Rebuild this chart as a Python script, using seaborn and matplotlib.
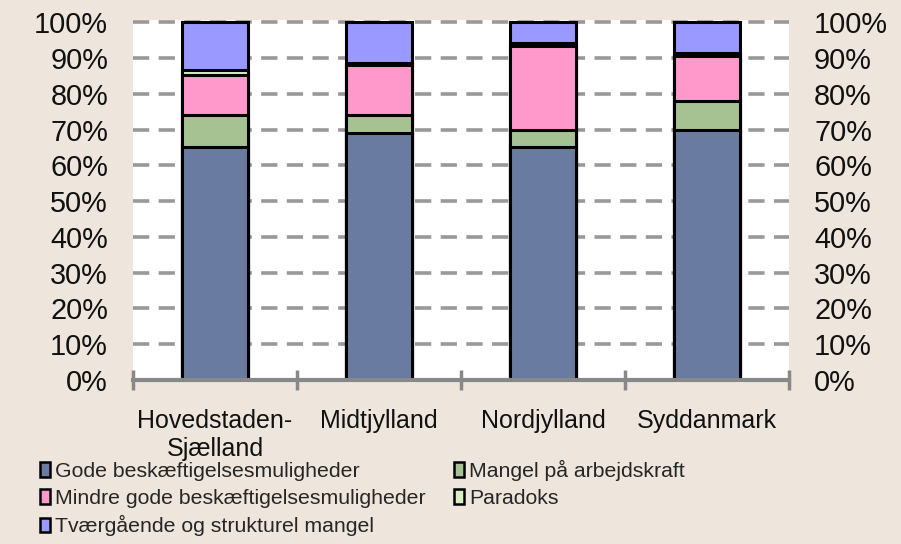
import numpy as np
import pandas as pd
import seaborn as sns
import matplotlib.pyplot as plt
from matplotlib.patches import Patch
from matplotlib.ticker import FixedLocator

regions = ["Hovedstaden-\nSjælland", "Midtjylland", "Nordjylland", "Syddanmark"]
series = ["Gode beskæftigelsesmuligheder", "Mangel på arbejdskraft",
          "Mindre gode beskæftigelsesmuligheder", "Paradoks",
          "Tværgående og strukturel mangel"]
gode = [65.0, 69.0, 65.0, 70.0]
mangel = [9.0, 5.0, 5.0, 8.0]
mindre = [11.3, 14.0, 23.3, 12.5]
paradoks = [1.3, 0.6, 0.8, 0.8]
tvaer = [13.4, 11.4, 5.9, 8.7]
colors = ["#6A7BA2", "#A6C293", "#FF99CC", "#D8EFC0", "#9999FF"]

sns.set_theme(style="white")
plt.rcParams['font.family'] = ['Liberation Sans', 'DejaVu Sans']

bg = "#EEE6DD"
fig = plt.figure(figsize=(9.01, 5.44), dpi=100, facecolor=bg)
ax = fig.add_axes([133 / 901, 164 / 544, 656 / 901, 524 / 544 - 164 / 544])
ax.set_facecolor("white")

# stacked bars: draw cumulative totals from the top layer down
layers = [gode, mangel, mindre, paradoks, tvaer]
cum = np.cumsum(np.array(layers), axis=0)
for i in range(len(layers) - 1, -1, -1):
    df = pd.DataFrame({"region": regions, "value": cum[i]})
    sns.barplot(data=df, x="region", y="value", color=colors[i], width=0.4,
                edgecolor="black", linewidth=2.2, saturation=1, ax=ax, zorder=3)

ax.set_ylim(0, 100.6)
ax.set_xlim(-0.5, 3.5)
yt = np.arange(0, 101, 10)
ax.set_yticks(yt)
ax.set_yticklabels([f"{v}%" for v in yt], fontsize=20.8, color="#111111")
ax.yaxis.grid(True, color="#999999", linewidth=2.6, linestyle=(0, (4.5, 2.6)), zorder=0)
ax.set_axisbelow(True)
ax.tick_params(axis="y", length=0, pad=18)
for s in ["top", "left", "right"]:
    ax.spines[s].set_visible(False)
ax.spines["bottom"].set_color("#888888")
ax.spines["bottom"].set_linewidth(3)
ax.spines["bottom"].set_zorder(4)

ax.set_xlabel("")
ax.set_ylabel("")
ax.set_xticks(range(4))
ax.set_xticklabels(regions, fontsize=18, color="#111111", linespacing=1.2)
ax.tick_params(axis="x", which="major", length=0, pad=21)
ax.xaxis.set_minor_locator(FixedLocator([-0.5, 0.5, 1.5, 2.5, 3.5]))
ax.tick_params(axis="x", which="minor", bottom=True, direction="inout", length=14,
               width=2.5, color="#888888")

ax2 = ax.twinx()
ax2.set_ylim(ax.get_ylim())
ax2.set_yticks(yt)
ax2.set_yticklabels([f"{v}%" for v in yt], fontsize=20.8, color="#111111")
ax2.tick_params(axis="y", length=0, pad=18)
for s in ax2.spines.values():
    s.set_visible(False)

handles = [Patch(facecolor=c, edgecolor="black", linewidth=1.8) for c in colors]
order = [0, 2, 4, 1, 3]
fig.legend([handles[i] for i in order], [series[i] for i in order],
           loc="upper left", bbox_to_anchor=(40 / 901, 1 - 460 / 544), ncol=2,
           frameon=False, fontsize=15.3, handlelength=0.45, handleheight=0.7,
           handletextpad=0.25, columnspacing=1.35, labelspacing=0.36,
           borderaxespad=0, borderpad=0)

fig.savefig("out.png", dpi=100, facecolor=bg)
